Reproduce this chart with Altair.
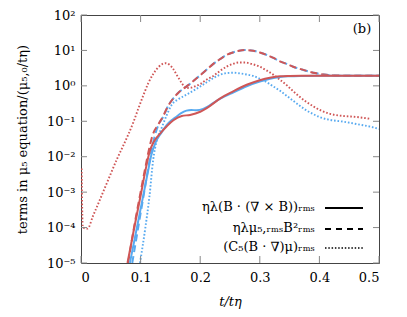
import altair as alt
import pandas as pd

# ---- data (values are log10 of the plotted terms) ----
# red dotted: (C5 (B.grad) mu)_rms, run 2
rd_t = [0.001, 0.003, 0.011, 0.02, 0.03, 0.04, 0.05, 0.06, 0.07, 0.08, 0.088, 0.096, 0.105, 0.113,
        0.121, 0.13, 0.137, 0.142, 0.148, 0.155, 0.162, 0.169, 0.176, 0.185, 0.193, 0.2, 0.211,
        0.222, 0.233, 0.244, 0.255, 0.265, 0.275, 0.286, 0.3, 0.312, 0.323, 0.334, 0.345, 0.356,
        0.367, 0.378, 0.39, 0.403, 0.418, 0.44, 0.463, 0.485]
rd_v = [-2.33, -4.0, -4.03, -3.68, -3.28, -2.88, -2.48, -2.08, -1.72, -1.35, -1.02, -0.65, -0.25,
        0.08, 0.33, 0.53, 0.62, 0.64, 0.6, 0.47, 0.27, 0.08, -0.06, -0.05, 0.0, 0.05, 0.18,
        0.28, 0.42, 0.54, 0.62, 0.66, 0.66, 0.62, 0.54, 0.43, 0.31, 0.17, 0.02, -0.15,
        -0.31, -0.45, -0.58, -0.7, -0.79, -0.85, -0.88, -0.93]
# blue dotted
bd_t = [0.099, 0.108, 0.115, 0.121, 0.127, 0.135, 0.144, 0.152, 0.163, 0.177, 0.194, 0.211, 0.222,
        0.233, 0.244, 0.256, 0.267, 0.278, 0.289, 0.3, 0.312, 0.323, 0.334, 0.345, 0.356, 0.367,
        0.378, 0.39, 0.4, 0.418, 0.44, 0.463, 0.49, 0.5]
bd_v = [-5, -4, -3.1, -2.1, -1.55, -1.2, -0.82, -0.54, -0.38, -0.25, -0.08, 0.1, 0.22,
        0.31, 0.36, 0.37, 0.35, 0.32, 0.28, 0.2, 0.1, -0.02, -0.14, -0.28, -0.42, -0.56,
        -0.69, -0.8, -0.88, -0.96, -1.01, -1.08, -1.17, -1.22]
# blue solid: eta lambda (B.(curl B))_rms
bs_t = [0.082, 0.095, 0.105, 0.112, 0.118, 0.125, 0.135, 0.144, 0.152, 0.16, 0.168, 0.177, 0.185,
        0.194, 0.205, 0.216, 0.233, 0.256, 0.278, 0.3, 0.317, 0.334, 0.35, 0.37, 0.4, 0.45, 0.5]
bs_v = [-5, -3.9, -3.05, -2.45, -1.95, -1.6, -1.32, -1.1, -0.97, -0.87, -0.77, -0.7, -0.68,
        -0.69, -0.65, -0.55, -0.37, -0.18, -0.01, 0.12, 0.2, 0.25, 0.27, 0.28, 0.285, 0.285, 0.285]
# red solid
rs_t = [0.078, 0.09, 0.1, 0.108, 0.113, 0.116, 0.12, 0.124, 0.133, 0.144, 0.155, 0.169, 0.183,
        0.2, 0.216, 0.233, 0.256, 0.278, 0.3, 0.317, 0.334, 0.35, 0.37, 0.4, 0.45, 0.5]
rs_v = [-5, -3.95, -3.1, -2.4, -2.0, -1.81, -1.65, -1.53, -1.34, -1.14, -0.97, -0.85, -0.82,
        -0.73, -0.57, -0.36, -0.15, 0.03, 0.16, 0.23, 0.27, 0.28, 0.285, 0.285, 0.285, 0.285]
# blue dashed: eta lambda mu5,rms B^2_rms
bda_t = [0.086, 0.095, 0.105, 0.112, 0.118, 0.124, 0.13, 0.137, 0.147, 0.155, 0.163, 0.172, 0.18,
         0.19, 0.2, 0.211, 0.222, 0.233, 0.244, 0.256, 0.265, 0.275, 0.289, 0.3, 0.312, 0.323,
         0.334, 0.345, 0.356, 0.367, 0.379, 0.393, 0.407, 0.423, 0.45, 0.5]
bda_v = [-5, -4.1, -3.1, -2.4, -1.85, -1.4, -1.1, -0.9, -0.54, -0.35, -0.2, -0.08, 0.02,
         0.16, 0.3, 0.46, 0.62, 0.75, 0.87, 0.95, 0.99, 1.01, 0.99, 0.94, 0.87, 0.79,
         0.69, 0.62, 0.54, 0.48, 0.42, 0.36, 0.32, 0.295, 0.285, 0.285]
# red dashed
rda_t = [0.079, 0.09, 0.1, 0.108, 0.114, 0.12, 0.13, 0.137, 0.147, 0.155, 0.163, 0.172, 0.18,
         0.19, 0.2, 0.211, 0.222, 0.233, 0.244, 0.256, 0.265, 0.275, 0.289, 0.3, 0.312, 0.323,
         0.334, 0.345, 0.356, 0.367, 0.379, 0.393, 0.407, 0.423, 0.45, 0.5]
rda_v = [-5, -3.9, -3.0, -2.3, -1.8, -1.4, -1.08, -0.88, -0.54, -0.35, -0.2, -0.08, 0.02,
         0.16, 0.3, 0.46, 0.62, 0.75, 0.87, 0.95, 0.99, 1.01, 0.99, 0.94, 0.87, 0.79,
         0.69, 0.62, 0.54, 0.48, 0.42, 0.36, 0.32, 0.295, 0.285, 0.285]

x_ticks = [0, 0.1, 0.2, 0.3, 0.4, 0.5]
y_ticks = [-5, -4, -3, -2, -1, 0, 1, 2]
legend_labels = ["ηλ(B · (∇ × B))ᵣₘₛ", "ηλμ₅,ᵣₘₛB²ᵣₘₛ", "(C₅(B · ∇)μ)ᵣₘₛ"]

RED = "#cf5656"
BLUE = "#58aaf0"
FONT = "'DejaVu Serif', 'Liberation Serif', serif"
W, H = 298, 248

xs = alt.Scale(domain=[0, 0.5], nice=False, zero=False)
ys = alt.Scale(domain=[-5, 2], nice=False, zero=False)

xaxis = alt.Axis(values=x_ticks, title="t/tη", titleFontStyle="italic",
                 labelExpr="datum.value == 0 ? '0' : format(datum.value, '.1f')",
                 labelPadding=8, titleX=W / 2, titleY=38, titleAlign="center",
                 titleBaseline="middle", labelOverlap=False)
yaxis = alt.Axis(values=y_ticks, title="terms in μ₅ equation/(μ₅,₀/tη)",
                 labelExpr="['10⁻⁵','10⁻⁴','10⁻³','10⁻²','10⁻¹','10⁰','10¹','10²'][datum.value + 5]",
                 labelPadding=6, titleX=-59, titleY=H / 2, titleAngle=270,
                 titleAlign="center", titleBaseline="middle", labelOverlap=False)


def series(t, v, color, dash, width):
    df = pd.DataFrame({"t": t, "v": v})
    kw = dict(color=color, strokeWidth=width, interpolate="monotone", clip=True)
    if dash:
        kw["strokeDash"] = dash
    return alt.Chart(df).mark_line(**kw).encode(
        x=alt.X("t:Q", scale=xs, axis=xaxis),
        y=alt.Y("v:Q", scale=ys, axis=yaxis),
    )


DOT = [1.6, 1.9]
DASH = [7, 4]
layers = [
    series(bd_t, bd_v, BLUE, DOT, 1.9),
    series(rd_t, rd_v, RED, DOT, 1.9),
    series(bda_t, bda_v, BLUE, DASH, 2),
    series(rda_t, rda_v, RED, DASH, 2),
    series(bs_t, bs_v, BLUE, None, 2),
    series(rs_t, rs_v, RED, None, 2),
]

# inward ticks on all four sides
xt = pd.DataFrame({"t": x_ticks})
yt = pd.DataFrame({"v": y_ticks})
tick_color = "#888888"
layers += [
    alt.Chart(xt).mark_rule(color=tick_color).encode(x=alt.X("t:Q", scale=xs, axis=xaxis), y=alt.value(H), y2=alt.value(H - 7)),
    alt.Chart(xt).mark_rule(color=tick_color).encode(x=alt.X("t:Q", scale=xs, axis=xaxis), y=alt.value(0), y2=alt.value(7)),
    alt.Chart(yt).mark_rule(color=tick_color).encode(y=alt.Y("v:Q", scale=ys, axis=yaxis), x=alt.value(0), x2=alt.value(6)),
    alt.Chart(yt).mark_rule(color=tick_color).encode(y=alt.Y("v:Q", scale=ys, axis=yaxis), x=alt.value(W), x2=alt.value(W - 6)),
]

# legend
row_y = [192, 213, 232]
dashes = [None, [6, 5], [1.5, 1.8]]
for i, lab in enumerate(legend_labels):
    one = pd.DataFrame({"label": [lab]})
    layers.append(
        alt.Chart(one).mark_text(font=FONT, fontSize=13, align="right", baseline="middle", color="black")
        .encode(text="label:N", x=alt.value(234), y=alt.value(row_y[i]))
    )
    kw = dict(color="black", strokeWidth=2 if i < 2 else 1.5)
    if dashes[i]:
        kw["strokeDash"] = dashes[i]
    layers.append(
        alt.Chart(one).mark_rule(**kw).encode(x=alt.value(244), x2=alt.value(282), y=alt.value(row_y[i] + 1))
    )

layers.append(
    alt.Chart(pd.DataFrame({"label": ["(b)"]})).mark_text(font=FONT, fontSize=13, align="center",
                                                          baseline="middle", color="black")
    .encode(text="label:N", x=alt.value(281), y=alt.value(14))
)

chart = alt.layer(*layers).properties(
    width=W, height=H,
    autosize=alt.AutoSizeParams(type="none"),
    padding={"left": 73, "top": 7, "right": 20, "bottom": 46},
).configure_view(stroke="#444444", strokeWidth=1).configure_axis(
    grid=False, ticks=False, domain=False, labelOverlap=False,
    labelFont=FONT, labelFontSize=13, labelColor="black",
    titleFont=FONT, titleFontSize=13, titleFontWeight="normal", titleColor="black",
)

chart.save("out.html", embed_options={"renderer": "svg", "actions": False})
